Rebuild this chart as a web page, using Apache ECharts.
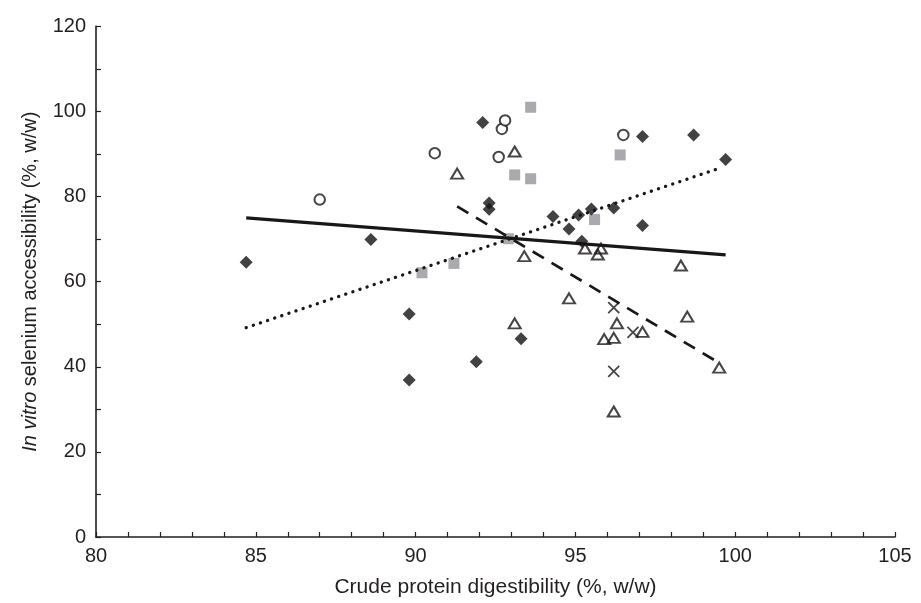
<!DOCTYPE html>
<html><head><meta charset="utf-8">
<script src="https://cdn.jsdelivr.net/npm/echarts@6/dist/echarts.min.js"></script>
<style>html,body{margin:0;padding:0;background:#fff}#c{width:921px;height:603px}</style>
</head><body><div id="c"></div>
<script>
// Data (x = crude protein digestibility, y = in vitro Se accessibility)
const diamondX = [84.7, 88.6, 89.8, 89.8, 91.9, 92.1, 92.3, 92.3, 93.3, 94.3, 94.8, 95.1, 95.2, 95.5, 96.2, 97.1, 97.1, 98.7, 99.7];
const diamondY = [64.6, 69.9, 52.4, 36.9, 41.2, 97.4, 78.5, 77.0, 46.6, 75.3, 72.4, 75.7, 69.5, 77.1, 77.3, 94.1, 73.2, 94.5, 88.7];
const circleX = [87.0, 90.6, 92.6, 92.7, 92.8, 96.5];
const circleY = [79.3, 90.2, 89.3, 95.9, 97.9, 94.5];
const squareX = [90.2, 91.2, 92.9, 93.1, 93.6, 93.6, 95.6, 96.4];
const squareY = [62.1, 64.3, 70.1, 85.1, 84.2, 101.0, 74.6, 89.8];
const triangleX = [91.3, 93.1, 93.4, 93.1, 94.8, 95.3, 95.7, 95.8, 95.9, 96.2, 96.3, 96.2, 97.1, 98.3, 98.5, 99.5];
const triangleY = [85.4, 90.6, 66.0, 50.2, 56.1, 67.8, 66.4, 67.8, 46.5, 46.8, 50.2, 29.5, 48.2, 63.8, 51.8, 39.8];
const crossX = [96.2, 96.8, 96.2];
const crossY = [53.9, 48.1, 38.9];
const solidX = [84.7, 99.7], solidY = [75.0, 66.3];
const dottedX = [84.7, 99.6], dottedY = [49.2, 86.9];
const dashedX = [91.3, 99.5], dashedY = [77.7, 40.9];
const xTicks = [80, 85, 90, 95, 100, 105];
const yTicks = [0, 20, 40, 60, 80, 100, 120];

const zip = (a, b) => a.map((v, i) => [v, b[i]]);
const INK = '#231f20';
const FONT = '"Liberation Sans", Arial, sans-serif';

const chart = echarts.init(document.getElementById('c'));
chart.setOption({
  animation: false,
  backgroundColor: '#fff',
  textStyle: { fontFamily: FONT },
  grid: { left: 96, right: 26, top: 26.4, bottom: 64.6, containLabel: false },
  xAxis: {
    type: 'value', min: 80, max: 105, interval: 1,
    name: 'Crude protein digestibility (%, w/w)',
    nameLocation: 'middle', nameGap: 40,
    nameTextStyle: { fontSize: 21, color: INK, fontFamily: FONT },
    axisLine: { show: true, onZero: false, lineStyle: { color: INK, width: 1.6 } },
    axisTick: { show: true, inside: true, length: 5, lineStyle: { color: INK, width: 1.2 } },
    axisLabel: { fontSize: 20, color: INK, margin: 9, fontFamily: FONT,
      formatter: v => (xTicks.indexOf(v) >= 0 ? String(v) : '') },
    splitLine: { show: false }
  },
  yAxis: {
    type: 'value', min: 0, max: 120, interval: 10,
    name: '{i|In vitro} selenium accessibility (%, w/w)',
    nameLocation: 'middle', nameGap: 56,
    nameTextStyle: { fontSize: 20, color: INK, fontFamily: FONT,
      rich: { i: { fontStyle: 'italic', fontSize: 20, color: INK, fontFamily: FONT } } },
    axisLine: { show: true, onZero: false, lineStyle: { color: INK, width: 1.6 } },
    axisTick: { show: true, inside: true, length: 5, lineStyle: { color: INK, width: 1.2 } },
    axisLabel: { fontSize: 20, color: INK, margin: 10, fontFamily: FONT,
      formatter: v => (yTicks.indexOf(v) >= 0 ? String(v) : '') },
    splitLine: { show: false }
  },
  series: [
    { type: 'line', data: zip(solidX, solidY), showSymbol: false, symbol: 'none', z: 3,
      lineStyle: { color: '#1a1718', width: 3.2 } },
    { type: 'line', data: zip(dottedX, dottedY), showSymbol: false, symbol: 'none', z: 3,
      lineStyle: { color: '#1a1718', width: 3.3, type: [0.1, 7.4], cap: 'round' } },
    { type: 'line', data: zip(dashedX, dashedY), showSymbol: false, symbol: 'none', z: 3,
      lineStyle: { color: '#1a1718', width: 2.7, type: [13, 9] } },
    { type: 'scatter', data: zip(squareX, squareY), symbol: 'rect', symbolSize: 11, z: 2,
      itemStyle: { color: '#939598' } },
    { type: 'scatter', data: zip(diamondX, diamondY), symbol: 'diamond', symbolSize: 13, z: 4,
      itemStyle: { color: '#141213' } },
    { type: 'scatter', data: zip(circleX, circleY), symbol: 'circle', symbolSize: 10.5, z: 4,
      itemStyle: { color: '#fff', borderColor: '#1a1718', borderWidth: 2 } },
    { type: 'scatter', data: zip(triangleX, triangleY), symbol: 'triangle', symbolSize: [12, 10], z: 4,
      itemStyle: { color: 'rgba(255,255,255,0)', borderColor: '#1a1718', borderWidth: 2 } },
    { type: 'scatter', data: zip(crossX, crossY), symbol: 'path://M0,0L10,10M10,0L0,10', symbolSize: 11, z: 4,
      itemStyle: { color: 'rgba(0,0,0,0)', borderColor: '#1a1718', borderWidth: 1.8 } }
  ]
});
</script></body></html>
